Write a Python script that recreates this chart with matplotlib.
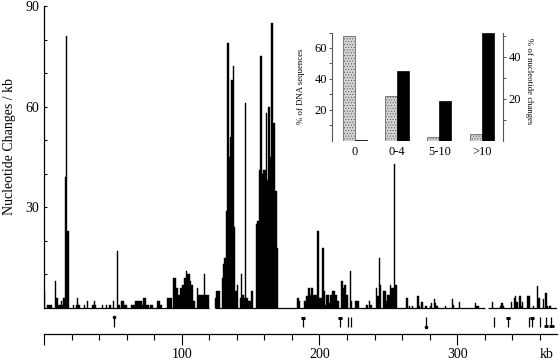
import numpy as np
import matplotlib
matplotlib.use("Agg")
import matplotlib.pyplot as plt

plt.rcParams['font.family'] = ['Liberation Serif', 'DejaVu Serif']
plt.rcParams['hatch.color'] = '#8c8c8c'
plt.rcParams['hatch.linewidth'] = 0.4

# nucleotide changes per 1 kb window (only the non-empty windows)
kb_pos = [0, 2, 3, 4, 5, 8, 9, 10, 11, 12, 13, 14, 15, 16, 17, 21, 23, 24, 25, 29,
          31, 35, 36, 37, 42, 45, 47, 48, 50, 53, 54, 56, 57, 58, 59, 63, 64, 65, 66, 67,
          68, 69, 70, 71, 72, 73, 74, 75, 77, 78, 82, 83, 84, 85, 89, 90, 91, 92, 94, 95,
          96, 97, 98, 99, 100, 101, 102, 103, 104, 105, 106, 107, 108, 109, 111, 112, 113, 114, 115, 116,
          117, 118, 119, 124, 125, 126, 127, 129, 130, 131, 132, 133, 134, 135, 136, 137, 138, 139, 140, 142,
          143, 144, 145, 146, 147, 148, 149, 150, 151, 154, 155, 156, 157, 158, 159, 160, 161, 162, 163, 164,
          165, 166, 167, 168, 169, 184, 185, 189, 190, 191, 192, 193, 194, 195, 196, 197, 198, 199, 200, 201,
          202, 203, 204, 205, 206, 207, 208, 209, 210, 211, 212, 213, 216, 217, 218, 219, 220, 222, 223, 226,
          227, 228, 234, 236, 237, 241, 242, 243, 244, 246, 247, 248, 249, 250, 251, 252, 253, 254, 255, 263,
          265, 267, 271, 272, 274, 277, 280, 281, 283, 284, 285, 291, 296, 297, 301, 313, 314, 315, 325, 331,
          332, 333, 339, 341, 342, 343, 345, 346, 347, 351, 352, 355, 358, 359, 362, 364, 365, 367]
changes = [5, 1, 1, 1, 1, 8, 3, 1, 1, 2, 1, 3, 39, 81, 23, 1, 1, 3, 1, 1,
           2, 1, 2, 1, 1, 1, 1, 1, 2, 17, 1, 2, 2, 1, 1, 1, 1, 1, 2, 2,
           2, 2, 2, 1, 3, 3, 1, 1, 1, 1, 2, 2, 1, 1, 3, 3, 3, 3, 9, 9,
           6, 4, 4, 6, 7, 7, 9, 11, 10, 10, 8, 7, 2, 2, 6, 4, 4, 4, 4, 10,
           4, 4, 4, 3, 5, 5, 5, 9, 13, 15, 29, 79, 45, 51, 68, 72, 24, 5, 7, 3,
           10, 4, 3, 61, 3, 2, 2, 5, 5, 25, 26, 41, 75, 40, 41, 41, 58, 38, 60, 45,
           85, 55, 55, 35, 18, 3, 2, 2, 3.5, 3.5, 6, 4, 6, 4, 4, 4, 23, 23, 3, 3,
           18, 5, 1, 4, 4, 1.5, 4, 5, 5, 4, 4, 2, 8, 6, 7, 4, 4, 11, 2, 2,
           2, 2, 1, 2, 1, 6, 3.5, 15, 7, 5, 5, 2, 4, 4, 7, 6, 6, 43, 7, 3,
           0.7, 0.7, 3.7, 0.7, 1.7, 0.7, 0.7, 1.5, 2.7, 1.5, 0.7, 0.7, 2.8, 1, 1.7, 1.5, 0.7, 0.7, 1.7, 0.7,
           1.5, 0.7, 1.7, 3, 3.7, 1.7, 3.7, 0.7, 1.7, 3.7, 3.7, 0.7, 6.7, 3, 2.7, 4.5, 0.7, 0.7]

# stretches of sequence covered by the windows
covered = [(0, 119.8), (124.2, 320.3), (322.7, 372.3)]

# symbols in the row under the histogram
tee_pos = [188, 215, 337, 354.6]
line_pos = [220.5, 223, 327, 352.4, 360.2]
dot_top_pos = [51]
dot_bottom_pos = [277.5]
foot_pos = [364.4, 368.5]
foot_width = [2.6, 3.8]

# inset
classes = ['0', '0-4', '5-10', '>10']
pct_sequences = [67.7, 28.8, 2.4, 4.3]
pct_changes = [0.4, 33.2, 18.9, 51.3]

fig = plt.figure(figsize=(5.6, 3.63), dpi=100)
ax = fig.add_axes([44 / 560, 1 - 333.5 / 363, 513 / 560, 327.5 / 363])

ax.bar(kb_pos, changes, width=1.0, align='edge', color='black',
       edgecolor='black', linewidth=0.3)
for a, b in covered:
    ax.hlines(0, a, b, color='black', linewidth=0.9)

tee_pos = np.array(tee_pos)
ax.vlines(tee_pos, -5.7, -2.7, color='black', linewidth=0.9)
ax.hlines([-3.0] * len(tee_pos), tee_pos - 1.5, tee_pos + 1.5, color='black', linewidth=2.2)
ax.vlines(line_pos, -5.7, -2.6, color='black', linewidth=0.9)
ax.vlines(dot_top_pos, -5.7, -2.8, color='black', linewidth=0.9)
ax.scatter(dot_top_pos, [-2.8] * len(dot_top_pos), s=2.5, color='black', zorder=3)
ax.vlines(dot_bottom_pos, -5.6, -2.6, color='black', linewidth=0.9)
ax.scatter(dot_bottom_pos, [-5.6] * len(dot_bottom_pos), s=2.5, color='black', zorder=3)
foot_pos = np.array(foot_pos)
foot_width = np.array(foot_width)
ax.vlines(foot_pos, -5.7, -2.7, color='black', linewidth=0.9)
ax.hlines([-5.4] * len(foot_pos), foot_pos - foot_width / 2, foot_pos + foot_width / 2,
          color='black', linewidth=2.0)

ax.set_xlim(0, 372.5)
ax.set_ylim(-7.6, 90)
ax.spines['top'].set_visible(False)
ax.spines['right'].set_visible(False)
ax.spines['left'].set_bounds(0, 90)
ax.spines['left'].set_linewidth(0.9)
ax.spines['bottom'].set_linewidth(0.9)

ax.set_yticks([30, 60, 90])
ax.set_yticks([10, 20, 40, 50, 70, 80], minor=True)
ax.tick_params(axis='y', which='both', direction='in', labelsize=10, pad=3.4)
ax.tick_params(axis='y', which='major', length=2.5, width=0.8)
ax.tick_params(axis='y', which='minor', length=1.8, width=0.8)

ax.set_xticks([0, 100, 200, 300], ['', '100', '200', '300'])
ax.set_xticks(np.arange(20, 372, 20), minor=True)
ax.tick_params(axis='x', which='both', direction='out', labelsize=10, pad=3)
ax.tick_params(axis='x', which='major', length=7.7, width=0.8)
ax.tick_params(axis='x', which='minor', length=4.3, width=0.8)
ax.annotate('kb', xy=(365, 0), xycoords=('data', 'axes fraction'),
            xytext=(0, -10.7), textcoords='offset points',
            ha='center', va='top', fontsize=10)

ax.set_ylabel('Nucleotide Changes / kb', fontsize=10)
ax.yaxis.set_label_coords(-0.055, 0.5725)

# inset
ins = fig.add_axes([332 / 560, 1 - 140.7 / 363, 171.3 / 560, 108.2 / 363])
x = np.arange(len(classes))
w = 0.286
ins.bar(x - w / 2, pct_sequences, w, color='#d2d2d2', edgecolor='#555555',
        linewidth=0.5, hatch='......')
ins2 = ins.twinx()
ins2.bar(x + w / 2, pct_changes, w, color='black', edgecolor='black', linewidth=0.5)
ins.set_xlim(-0.536, 3.51)
ins.set_ylim(0, 70)
ins2.set_ylim(0, 51.6)

for s in ['top', 'bottom', 'right']:
    ins.spines[s].set_visible(False)
for s in ['top', 'bottom', 'left']:
    ins2.spines[s].set_visible(False)
ins.spines['left'].set_color('#555555')
ins2.spines['right'].set_color('#555555')
ins.patch.set_visible(False)

ins.set_yticks([20, 40, 60])
ins.set_yticks([10, 30, 50, 70], minor=True)
ins2.set_yticks([20, 40])
ins2.set_yticks([10, 30, 50], minor=True)
for a in (ins, ins2):
    a.tick_params(axis='y', which='both', direction='out', labelsize=9, pad=1.5,
                  color='#555555')
    a.tick_params(axis='y', which='major', length=2.2, width=0.7)
    a.tick_params(axis='y', which='minor', length=2.0, width=0.7)
ins.set_xticks(x, classes)
ins.tick_params(axis='x', length=0, pad=4, labelsize=9)

fig.text(300.7 / 560, 1 - 86 / 363, '% of DNA sequences', rotation=90,
         ha='center', va='center', fontsize=6.3)
fig.text(529.3 / 560, 1 - 81 / 363, '% of nucleotide changes', rotation=270,
         ha='center', va='center', fontsize=6.3)

fig.savefig('out.png', dpi=100)
